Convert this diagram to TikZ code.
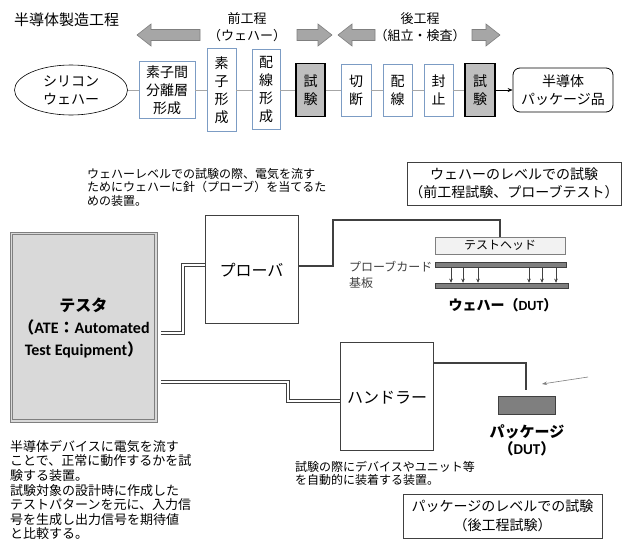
\documentclass[tikz,border=0pt]{standalone}
\usepackage{fontspec}
\setmainfont{Noto Sans CJK JP}
\newfontfamily\carl{Carlito}
\usetikzlibrary{arrows.meta,shapes.geometric}
\definecolor{procblue}{HTML}{7C9CC4}
\definecolor{arrowgray}{HTML}{A6A6A6}
\definecolor{arrowedge}{HTML}{7F7F7F}
\definecolor{darkline}{HTML}{404040}
\definecolor{barfill}{HTML}{7F7F7F}
\definecolor{testerfill}{HTML}{D9D9D9}
\tikzset{
  proc/.style={draw=procblue, line width=0.8pt, fill=white, inner sep=0pt, align=center, font=\fontsize{14}{18}\selectfont},
  testbox/.style={draw=black, line width=1.6pt, fill=black!25, inner sep=0pt, align=center, font=\fontsize{14}{18}\selectfont},
  conn/.style={draw=arrowgray, line width=0.8pt},
  bigarrow/.style={fill=arrowgray, draw=arrowedge, line width=0.6pt},
  dlineout/.style={draw=darkline, line width=4pt, line join=miter},
  dlinein/.style={draw=white, line width=1.6pt, line join=miter},
  heavyline/.style={draw=darkline, line width=2pt, line join=miter},
  plainbox/.style={draw=darkline, line width=0.8pt, fill=white, inner sep=0pt, align=center},
  desc/.style={align=left, inner sep=0pt, anchor=north west},
}
\begin{document}
\begin{tikzpicture}[x=1pt,y=-1pt]
\useasboundingbox (0,0) rectangle (622,539);
% title
\node[anchor=west, inner sep=0pt, font=\fontsize{15}{18}\selectfont] (title) at (14,20) {半導体製造工程};
% big arrows
\draw[bigarrow] (137,35) -- (151,24) -- (151,29.5) -- (200,29.5) -- (200,40.5) -- (151,40.5) -- (151,46) -- cycle;
\draw[bigarrow] (332,35) -- (318,24) -- (318,29.5) -- (297,29.5) -- (297,40.5) -- (318,40.5) -- (318,46) -- cycle;
\draw[bigarrow] (338,35) -- (352,24) -- (352,29.5) -- (375,29.5) -- (375,40.5) -- (352,40.5) -- (352,46) -- cycle;
\draw[bigarrow] (500,35) -- (486,24) -- (486,29.5) -- (472,29.5) -- (472,40.5) -- (486,40.5) -- (486,46) -- cycle;
\node[font=\fontsize{13}{17}\selectfont, align=center, inner sep=0pt] (mae) at (247,27) {前工程\\（ウェハー）};
\node[font=\fontsize{13}{17}\selectfont, align=center, inner sep=0pt] (ato) at (420,27) {後工程\\（組立・検査）};
% process row
\node[draw=black, line width=0.6pt, ellipse, minimum width=113pt, minimum height=50pt, inner sep=0pt, align=center, font=\fontsize{14}{18}\selectfont] (wafer) at (71,90) {シリコン\\ウェハー};
\node[proc, minimum width=56pt, minimum height=57pt] (b1) at (167,90) {素子間\\分離層\\形成};
\node[proc, minimum width=29pt, minimum height=83pt] (b2) at (221.5,90) {素\\子\\形\\成};
\node[proc, minimum width=28pt, minimum height=80pt] (b3) at (266,89) {配\\線\\形\\成};
\node[testbox, minimum width=29pt, minimum height=53pt] (b4) at (310.5,90) {試\\験};
\node[proc, minimum width=30pt, minimum height=52pt] (b5) at (356,90) {切\\断};
\node[proc, minimum width=29pt, minimum height=52pt] (b6) at (397.5,90) {配\\線};
\node[proc, minimum width=29pt, minimum height=52pt] (b7) at (438.5,90) {封\\止};
\node[testbox, minimum width=30pt, minimum height=53pt] (b8) at (480,90) {試\\験};
\node[draw=black, line width=0.8pt, rounded corners=7pt, minimum width=100pt, minimum height=44pt, inner sep=0pt, align=center, font=\fontsize{14}{18}\selectfont] (pkg) at (563,90) {半導体\\パッケージ品};
\draw[conn] (wafer) -- (b1);
\draw[conn] (b1) -- (b2);
\draw[conn] (b2.east) -- (b3.west |- b2.east);
\draw[conn] (b3.east |- b4.west) -- (b4);
\draw[conn] (b4) -- (b5);
\draw[conn] (b5) -- (b6);
\draw[conn] (b6) -- (b7);
\draw[conn] (b7) -- (b8);
\draw[black, line width=0.6pt, -{Stealth[length=5pt,width=4pt]}] (b8) -- (pkg);
% descriptions
\node[desc, font=\fontsize{12}{13.6}\selectfont] (probedesc) at (87,168) {ウェハーレベルでの試験の際、電気を流す\\ためにウェハーに針（プローブ）を当てるた\\めの装置。};
\node[plainbox, minimum width=214pt, minimum height=43pt, font=\fontsize{14}{18}\selectfont] (wlevel) at (514,183.5) {ウェハーのレベルでの試験\\（前工程試験、プローブテスト）};
% tester
\node[draw=arrowedge, line width=0.8pt, fill=testerfill, minimum width=147pt, minimum height=190pt, inner sep=0pt] (tester) at (83.5,327) {};
\draw[arrowedge, line width=0.5pt] (12.5,234.5) rectangle (154.5,419.5);
\node[align=center, inner sep=0pt, font=\fontsize{16}{22}\selectfont\bfseries] (testerlbl) at (83.5,305) {テスタ};
\node[align=center, inner sep=0pt, font=\fontsize{16}{22}\selectfont\bfseries] (testerlbl2) at (84,339) {（{\carl\bfseries ATE}：{\carl\bfseries Automated}\\{\carl\bfseries Test Equipment}）};
% prober and handler
\node[plainbox, minimum width=93pt, minimum height=108pt] (prober) at (251.5,269) {};
\node[font=\fontsize{16}{20}\selectfont, inner sep=0pt] (proberlbl) at (251.5,270) {プローバ};
\node[plainbox, minimum width=93pt, minimum height=108pt] (handler) at (386.5,396) {};
\node[font=\fontsize{16}{20}\selectfont, inner sep=0pt] (handlerlbl) at (387,398) {ハンドラー};
% double connectors
\coordinate (tA) at (161,333);
\coordinate (tB) at (161,382);
\coordinate (kA) at (183,333);
\coordinate (kB) at (183,265);
\coordinate (kC) at (288,382);
\coordinate (kD) at (288,401);
\draw[dlineout] (tA) -- (kA) -- (kB) -- (prober.west |- kB);
\draw[dlinein] (tA) -- (kA) -- (kB) -- (prober.west |- kB);
\draw[dlineout] (tB) -- (kC) -- (kD) -- (handler.west |- kD);
\draw[dlinein] (tB) -- (kC) -- (kD) -- (handler.west |- kD);
% wafer test station
\node[draw=arrowedge, line width=0.6pt, fill=black!5, minimum width=130pt, minimum height=17pt, inner sep=0pt, font=\fontsize{12}{14}\selectfont] (head) at (500,245.5) {テストヘッド};
\node[draw=darkline, line width=0.5pt, fill=barfill, minimum width=131pt, minimum height=5pt, inner sep=0pt] (card) at (500.5,264.5) {};
\node[draw=darkline, line width=0.5pt, fill=barfill, minimum width=133pt, minimum height=5pt, inner sep=0pt] (wbar) at (501.5,285.5) {};
\draw[heavyline] (prober.east |- 0,266) -- (333,266) -- (333,220) -- (500,220) -- (head.north);
\foreach \xx/\nm in {451/pa,463/pb,478/pc,529/pd,542/pe,556/pf}{
  \coordinate (\nm) at (\xx,267);
  \draw[darkline, line width=0.5pt, -{Stealth[length=4pt,width=3.5pt]}] (\nm) -- (\nm |- wbar.north);
}
\node[inner sep=0pt, font=\fontsize{14}{18}\selectfont\bfseries] (waferdut) at (503,305) {ウェハー（{\carl\bfseries DUT}）};
\node[desc, text=darkline, font=\fontsize{12}{16}\selectfont] (cardlbl) at (349,261) {プローブカード\\基板};
% package station
\node[draw=darkline, line width=0.5pt, fill=barfill, minimum width=57pt, minimum height=18pt, inner sep=0pt] (pkgchip) at (526.5,405) {};
\draw[heavyline] (handler.east |- 0,363) -- (526,363) -- (526,390);
\coordinate (ptr) at (588,377);
\draw[arrowedge, line width=0.6pt, -{Stealth[length=5pt,width=3.5pt]}] (ptr) -- (542,384);
\node[align=center, inner sep=0pt, font=\fontsize{15}{17}\selectfont\bfseries] (pkgdut) at (527,440) {パッケージ\\（{\carl\bfseries DUT}）};
% lower texts
\node[desc, font=\fontsize{12}{13}\selectfont] (handesc) at (295,461) {試験の際にデバイスやユニット等\\を自動的に装着する装置。};
\node[plainbox, minimum width=199pt, minimum height=44pt, font=\fontsize{14}{19}\selectfont] (plevel) at (502.5,516) {パッケージのレベルでの試験\\（後工程試験）};
\node[desc, font=\fontsize{13}{14.6}\selectfont] (testdesc) at (10,440) {半導体デバイスに電気を流す\\ことで、正常に動作するかを試\\験する装置。\\試験対象の設計時に作成した\\テストパターンを元に、入力信\\号を生成し出力信号を期待値\\と比較する。};
\end{tikzpicture}
\end{document}
